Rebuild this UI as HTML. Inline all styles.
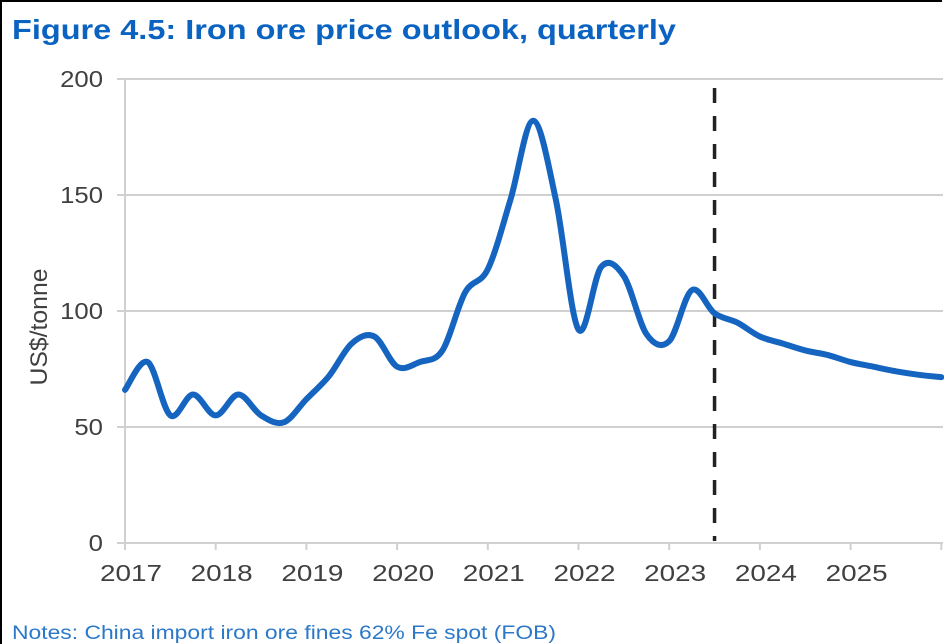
<!DOCTYPE html>
<html><head><meta charset="utf-8"><style>
body{margin:0;width:944px;height:644px;overflow:hidden;background:#fff;font-family:"Liberation Sans",sans-serif;}
#wrap{position:absolute;left:0;top:0;width:942px;height:644px;border-top:2px solid #000;border-left:2px solid #000;box-sizing:border-box;}
</style></head><body>
<div id="wrap"></div>
<svg id="c" width="944" height="644" style="position:absolute;left:0;top:0">
<text x="12" y="39" font-size="28" font-weight="bold" fill="#0b63c1" textLength="664" lengthAdjust="spacingAndGlyphs">Figure 4.5: Iron ore price outlook, quarterly</text>
<text x="12" y="639" font-size="19" fill="#2c78c8" textLength="544" lengthAdjust="spacingAndGlyphs">Notes: China import iron ore fines 62% Fe spot (FOB)</text>
<text transform="translate(47,327) rotate(-90)" text-anchor="middle" font-size="24" fill="#404040" textLength="117" lengthAdjust="spacingAndGlyphs">US$/tonne</text>
<g id="g"></g>
</svg>
<script>
const yTicks=[0,50,100,150,200];
const xLabels=["2017","2018","2019","2020","2021","2022","2023","2024","2025"];
const startYear=2017;
const prices=[66,78,55,64,55,64,55,52,62,72,86,89,76,78,83,108,118,148,182,148,92,119,115,90,87,109,99,95,89,86,83,81,78,76,74,72.5,71.5];
const forecastStart=2023.5;
const X0=125,X1=943,Y0=543,Y1=79,pxYear=90.7;
const xs=t=>X0+(t-startYear)*pxYear;
const ys=v=>Y0-(v/200)*(Y0-Y1);
const NS="http://www.w3.org/2000/svg";
const g=document.getElementById('g');
function mk(tag,at){const e=document.createElementNS(NS,tag);for(const k in at)e.setAttribute(k,at[k]);g.appendChild(e);return e;}
yTicks.forEach(v=>{
 const l=mk('line',{x1:X0-8,x2:X1,y1:ys(v),y2:ys(v),stroke:'#d0d0d0','stroke-width':2});
 
 
 const t=mk('text',{x:103,y:ys(v)+8,'text-anchor':'end','font-size':23,fill:'#404040'});
 t.textContent=v;
 t.setAttribute('textLength',String(v).length*14.3);
 t.setAttribute('lengthAdjust','spacingAndGlyphs');
 
 
});
const ax=mk('line',{x1:X0,x2:X0,y1:Y1,y2:Y0+5,stroke:'#d0d0d0','stroke-width':2});


for(let i=0;i<=xLabels.length;i++){
 const x=xs(startYear+i);
 const tk=mk('line',{x1:x,x2:x,y1:Y0,y2:Y0+7,stroke:'#d0d0d0','stroke-width':2});
 
 
}
xLabels.forEach((s,i)=>{
 const t=mk('text',{x:xs(startYear+i)+6,y:Y0+38,'text-anchor':'middle','font-size':23,fill:'#404040'});
 t.textContent=s;
 t.setAttribute('textLength',62);
 t.setAttribute('lengthAdjust','spacingAndGlyphs');
 
 
});
const dl=mk('line',{x1:xs(forecastStart),x2:xs(forecastStart),y1:88,y2:Y0-2,stroke:'#222','stroke-width':3.5,'stroke-dasharray':'15,13'});


const pts=prices.map((v,i)=>[xs(startYear+i/4),ys(v)]);
let d='M'+pts[0][0]+','+pts[0][1];
for(let i=0;i<pts.length-1;i++){
 const p0=pts[Math.max(0,i-1)],p1=pts[i],p2=pts[i+1],p3=pts[Math.min(pts.length-1,i+2)];
 const c1=[p1[0]+(p2[0]-p0[0])/6,p1[1]+(p2[1]-p0[1])/6],c2=[p2[0]-(p3[0]-p1[0])/6,p2[1]-(p3[1]-p1[1])/6];
 d+=` C${c1[0]},${c1[1]} ${c2[0]},${c2[1]} ${p2[0]},${p2[1]}`;
}
const ln=mk('path',{d:d,fill:'none',stroke:'#1565c0','stroke-width':6,'stroke-linejoin':'round','stroke-linecap':'round'});


</script>
</body></html>
